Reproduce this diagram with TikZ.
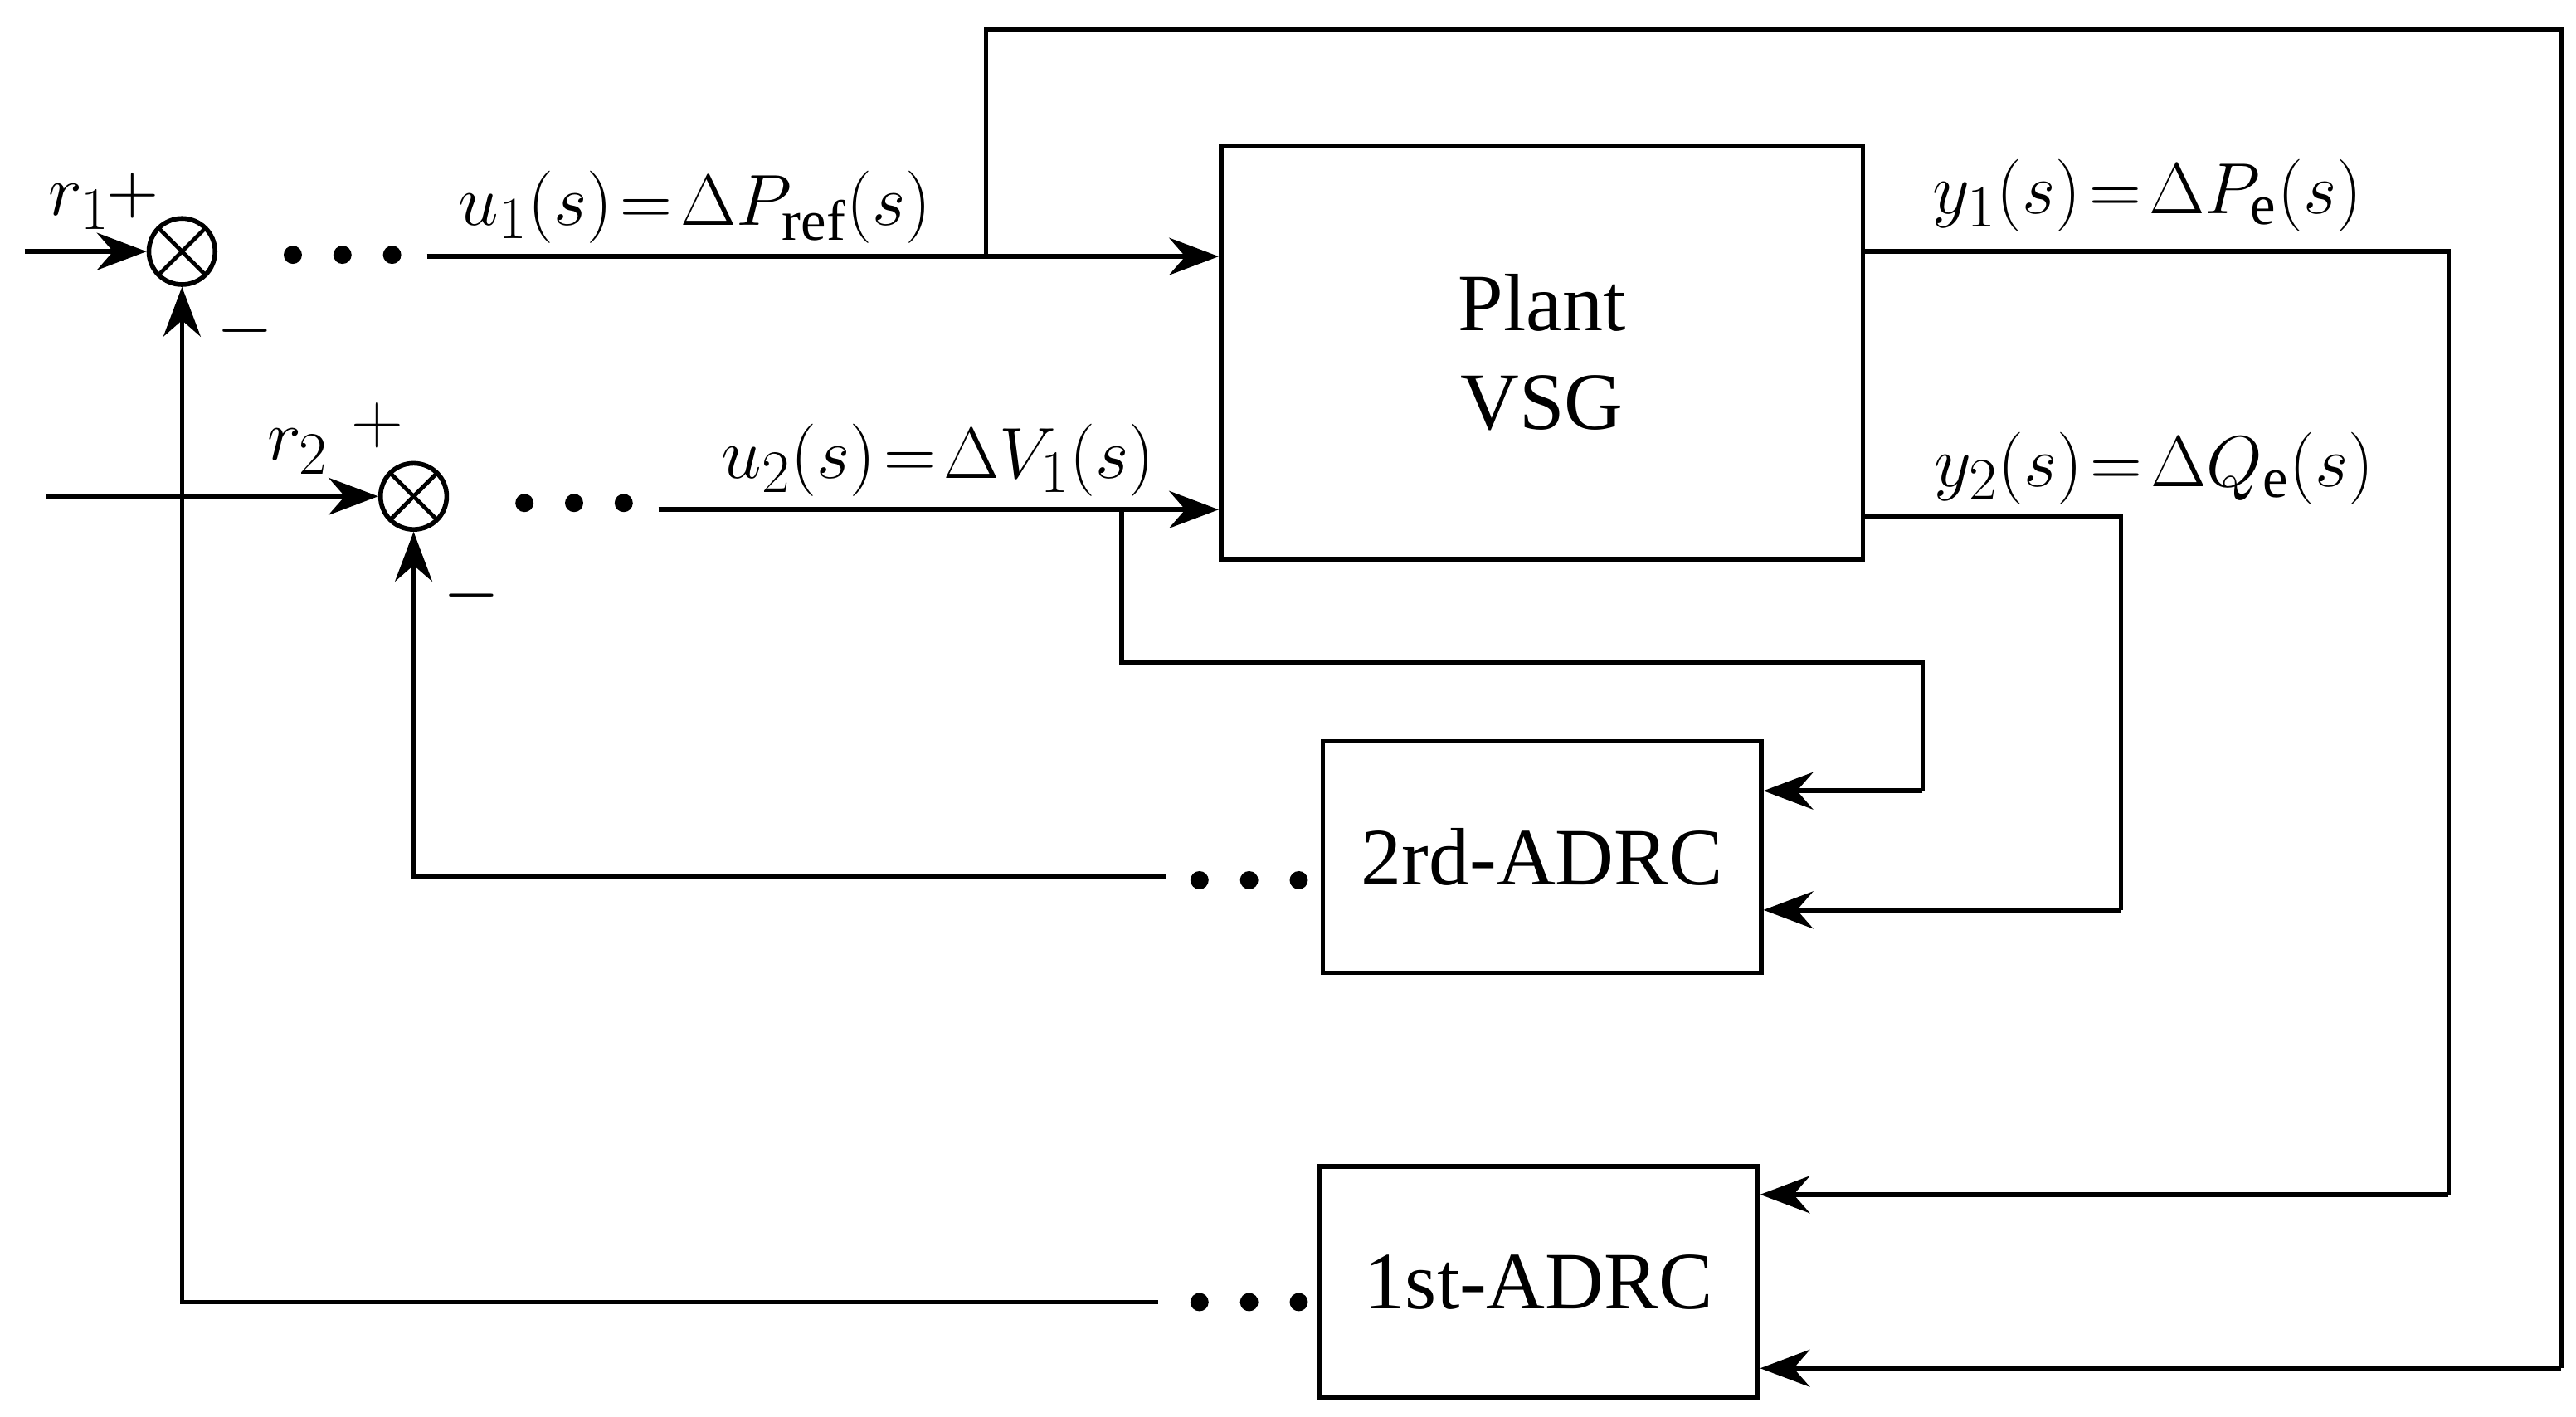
\documentclass[tikz,border=0pt]{standalone}
\usepackage{amsmath,amssymb}
\usepackage{fontspec}
\setmainfont{Liberation Serif}
\usetikzlibrary{arrows.meta,calc,positioning}

\tikzset{
  blk/.style={draw, line width=1.6pt, minimum width=5.3cm, minimum height=2.8cm, font=\fontsize{28}{34}\selectfont, align=center},
  sumj/.style={draw, circle, line width=1.6pt, minimum size=0.8cm, inner sep=0pt,
    path picture={\draw[line width=1.4pt] (path picture bounding box.north west) -- (path picture bounding box.south east)
      (path picture bounding box.north east) -- (path picture bounding box.south west);}},
  sig/.style={line width=1.6pt, -{Stealth[length=0.6cm,width=0.45cm]}},
  wire/.style={line width=1.6pt},
  lbl/.style={font=\fontsize{28}{32}\selectfont, inner sep=0pt},
  dot/.style={fill, circle, inner sep=0pt, minimum size=0.22cm}
}

\begin{document}
\begin{tikzpicture}[x=0.02cm, y=-0.02cm]

  \useasboundingbox (0,0) rectangle (1557,856);

  % blocks
  \node [blk, minimum width=7.76cm, minimum height=5cm] (plant) at (932,213) {Plant\\VSG};
  \node [blk] (adrc2) at (932,518) {2rd-ADRC};
  \node [blk] (adrc1) at (930,775) {1st-ADRC};

  % summing junctions
  \node [sumj] (s1) at (110,152) {};
  \node [sumj] (s2) at (250,300) {};

  \coordinate (r1in) at (15,152);
  \coordinate (r2in) at (28,300);
  \coordinate (u1s) at (258,155);
  \coordinate (u2s) at (398,308);
  \coordinate (tap1) at (596,155);
  \coordinate (tap2) at (678,308);
  \coordinate (fb2) at (705,530);
  \coordinate (fb1) at (700,787);

  \draw [sig] (r1in) -- (s1);
  \draw [sig] (r2in) -- (s2);
  \draw [sig] (u1s) -- (u1s -| plant.west);
  \draw [sig] (u2s) -- (u2s -| plant.west);

  % dots
  \foreach \dx in {0,30,60} {
    \node [dot] at (177+\dx,154) {};
    \node [dot] at (317+\dx,304) {};
    \node [dot] at (725+\dx,532) {};
    \node [dot] at (725+\dx,787) {};
  }

  % feedback to summing junctions
  \draw [sig] (fb2) -| (s2.south);
  \draw [sig] (fb1) -| (s1.south);

  % outputs
  \draw [wire] (1126,152) -| (1480,722);
  \draw [sig] (1480,722) -- (1480,722 -| adrc1.east);
  \draw [wire] (1126,312) -| (1282,550);
  \draw [sig] (1282,550) -- (1282,550 -| adrc2.east);

  % inputs to controllers
  \draw [wire] (tap1) |- (1548,18) -- (1548,827);
  \draw [sig] (1548,827) -- (1548,827 -| adrc1.east);
  \draw [wire] (tap2) |- (1162,400) -- (1162,478);
  \draw [sig] (1162,478) -- (1162,478 -| adrc2.east);

  % labels
  \node [lbl] at (48,125) {$r_1$};
  \node [lbl] at (80,118) {$+$};
  \node [lbl] at (148,200) {$-$};
  \node [lbl] at (180,273) {$r_2$};
  \node [lbl] at (228,257) {$+$};
  \node [lbl] at (285,360) {$-$};
  \node [lbl] at (420,125) {$u_1(s)\!=\!\Delta P_{\mathrm{ref}}(s)$};
  \node [lbl] at (567,278) {$u_2(s)\!=\!\Delta V_1(s)$};
  \node [lbl] at (1298,118) {$y_1(s)\!=\!\Delta P_{\mathrm{e}}(s)$};
  \node [lbl] at (1302,283) {$y_2(s)\!=\!\Delta Q_{\mathrm{e}}(s)$};

\end{tikzpicture}
\end{document}
